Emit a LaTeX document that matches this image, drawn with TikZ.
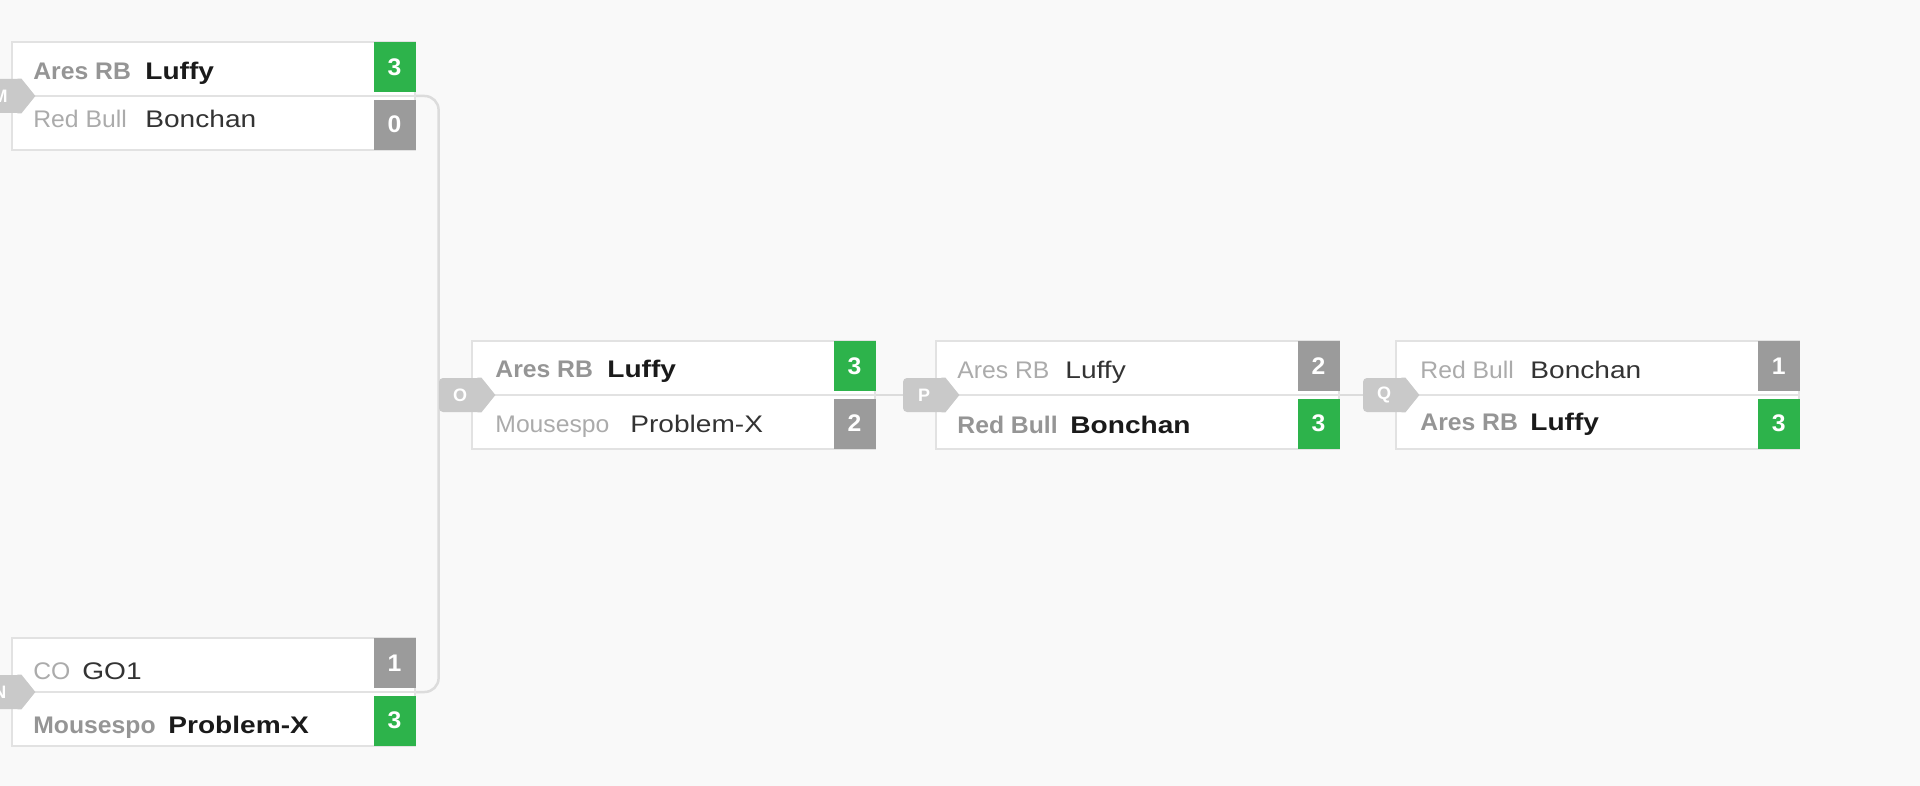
\documentclass[tikz,border=0pt]{standalone}
\usepackage{fontspec}
\setmainfont{Liberation Sans}
\newfontfamily\pfxfont[FakeStretch=1.03]{Liberation Sans}
\newfontfamily\namefont[FakeStretch=1.17]{Liberation Sans}
\definecolor{bgc}{HTML}{F9F9F9}
\definecolor{bord}{HTML}{E2E2E2}
\definecolor{win}{HTML}{2DB34B}
\definecolor{lose}{HTML}{9B9B9B}
\definecolor{pfxw}{HTML}{959595}
\definecolor{pfxl}{HTML}{ABABAB}
\definecolor{namew}{HTML}{1A1A1A}
\definecolor{namel}{HTML}{333333}
\definecolor{tagc}{HTML}{C9C9C9}
\definecolor{connc}{HTML}{DCDCDC}
\pgfdeclarelayer{background}
\pgfsetlayers{background,main}
\tikzset{
  matchbox/.style={draw=bord, line width=1pt, fill=white, minimum width=201.5pt, minimum height=54pt, inner sep=0pt},
  score/.style={minimum width=21pt, minimum height=25pt, inner sep=0pt, text=white, font=\pfxfont\bfseries\fontsize{12}{14}\selectfont},
  txt/.style={anchor=base west, inner sep=0pt},
  pw/.style={txt, text=pfxw, font=\pfxfont\bfseries\fontsize{12}{14}\selectfont},
  pl/.style={txt, text=pfxl, font=\pfxfont\fontsize{12}{14}\selectfont},
  nw/.style={txt, text=namew, font=\namefont\bfseries\fontsize{12}{14}\selectfont},
  nl/.style={txt, text=namel, font=\namefont\fontsize{12}{14}\selectfont},
  tagbody/.style={fill=tagc, rounded corners=2pt, minimum width=21pt, minimum height=17pt, inner sep=0pt, text=white, font=\bfseries\fontsize{9}{10}\selectfont},
  connl/.style={draw=connc, line width=1.25pt, rounded corners=7pt},
  divl/.style={draw=bord, line width=1pt}
}
\newcommand\tagtip[1]{\fill[tagc] ([xshift=-2pt]#1.north east) -- (#1.north east) -- ([xshift=7pt]#1.east) -- (#1.south east) -- ([xshift=-2pt]#1.south east) -- cycle;}
\begin{document}
\begin{tikzpicture}[x=0.5pt,y=-0.5pt]
\useasboundingbox (0,0) rectangle (1920,786);
% boxes
\node[matchbox] (mbox) at (213.5,96) {};
\node[matchbox] (nbox) at (213.5,692) {};
\node[matchbox] (obox) at (673.5,395) {};
\node[matchbox] (pbox) at (1137.5,395) {};
\node[matchbox] (qbox) at (1597.5,395) {};
\foreach \b in {mbox,nbox,obox,pbox,qbox}{\draw[divl] (\b.west) -- (\b.east);}
% scores
\node[score, fill=win, anchor=north east] (ms1) at ([yshift=-0.5pt]mbox.north east) {3};
\node[score, fill=lose, anchor=south east] (ms2) at ([yshift=0.5pt]mbox.south east) {0};
\node[score, fill=lose, anchor=north east] (ns1) at ([yshift=-0.5pt]nbox.north east) {1};
\node[score, fill=win, anchor=south east] (ns2) at ([yshift=0.5pt]nbox.south east) {3};
\node[score, fill=win, anchor=north east] (os1) at ([yshift=-0.5pt]obox.north east) {3};
\node[score, fill=lose, anchor=south east] (os2) at ([yshift=0.5pt]obox.south east) {2};
\node[score, fill=lose, anchor=north east] (ps1) at ([yshift=-0.5pt]pbox.north east) {2};
\node[score, fill=win, anchor=south east] (ps2) at ([yshift=0.5pt]pbox.south east) {3};
\node[score, fill=lose, anchor=north east] (qs1) at ([yshift=-0.5pt]qbox.north east) {1};
\node[score, fill=win, anchor=south east] (qs2) at ([yshift=0.5pt]qbox.south east) {3};
% texts M
\node[pw] (mp1) at (33,80) {Ares RB};
\node[nw] (mn1) at (145,80) {Luffy};
\node[pl] (mp2) at (33,128) {Red Bull};
\node[nl] (mn2) at (145,128) {Bonchan};
% texts N
\node[pl] (np1) at (33,679) {CO};
\node[nl] (nn1) at (82,679) {GO1};
\node[pw] (np2) at (33,733) {Mousespo};
\node[nw] (nn2) at (168,733) {Problem-X};
% texts O
\node[pw] (op1) at (495,377) {Ares RB};
\node[nw] (on1) at (607,377) {Luffy};
\node[pl] (op2) at (495,432) {Mousespo};
\node[nl] (on2) at (630,432) {Problem-X};
% texts P
\node[pl] (pp1) at (957,378) {Ares RB};
\node[nl] (pn1) at (1065,378) {Luffy};
\node[pw] (pp2) at (957,433) {Red Bull};
\node[nw] (pn2) at (1070,433) {Bonchan};
% texts Q
\node[pl] (qp1) at (1420,378) {Red Bull};
\node[nl] (qn1) at (1530,378) {Bonchan};
\node[pw] (qp2) at (1420,430) {Ares RB};
\node[nw] (qn2) at (1530,430) {Luffy};
% tags
\node[tagbody] (tagM) at ([xshift=-5.5pt]mbox.west) {M}; \tagtip{tagM}
\node[tagbody] (tagN) at ([xshift=-5.5pt]nbox.west) {N}; \tagtip{tagN}
\node[tagbody] (tagO) at ([xshift=-5.5pt]obox.west) {O}; \tagtip{tagO}
\node[tagbody] (tagP) at ([xshift=-5.5pt]pbox.west) {P}; \tagtip{tagP}
\node[tagbody] (tagQ) at ([xshift=-5.5pt]qbox.west) {Q}; \tagtip{tagQ}
\begin{pgfonlayer}{background}
\fill[bgc] (0,0) rectangle (1920,786);
\draw[connl] (mbox.east) -| (tagO.west) |- (nbox.east);
\draw[connl] (obox.east) -- (tagP.west);
\draw[connl] (pbox.east) -- (tagQ.west);
\end{pgfonlayer}
\end{tikzpicture}
\end{document}
